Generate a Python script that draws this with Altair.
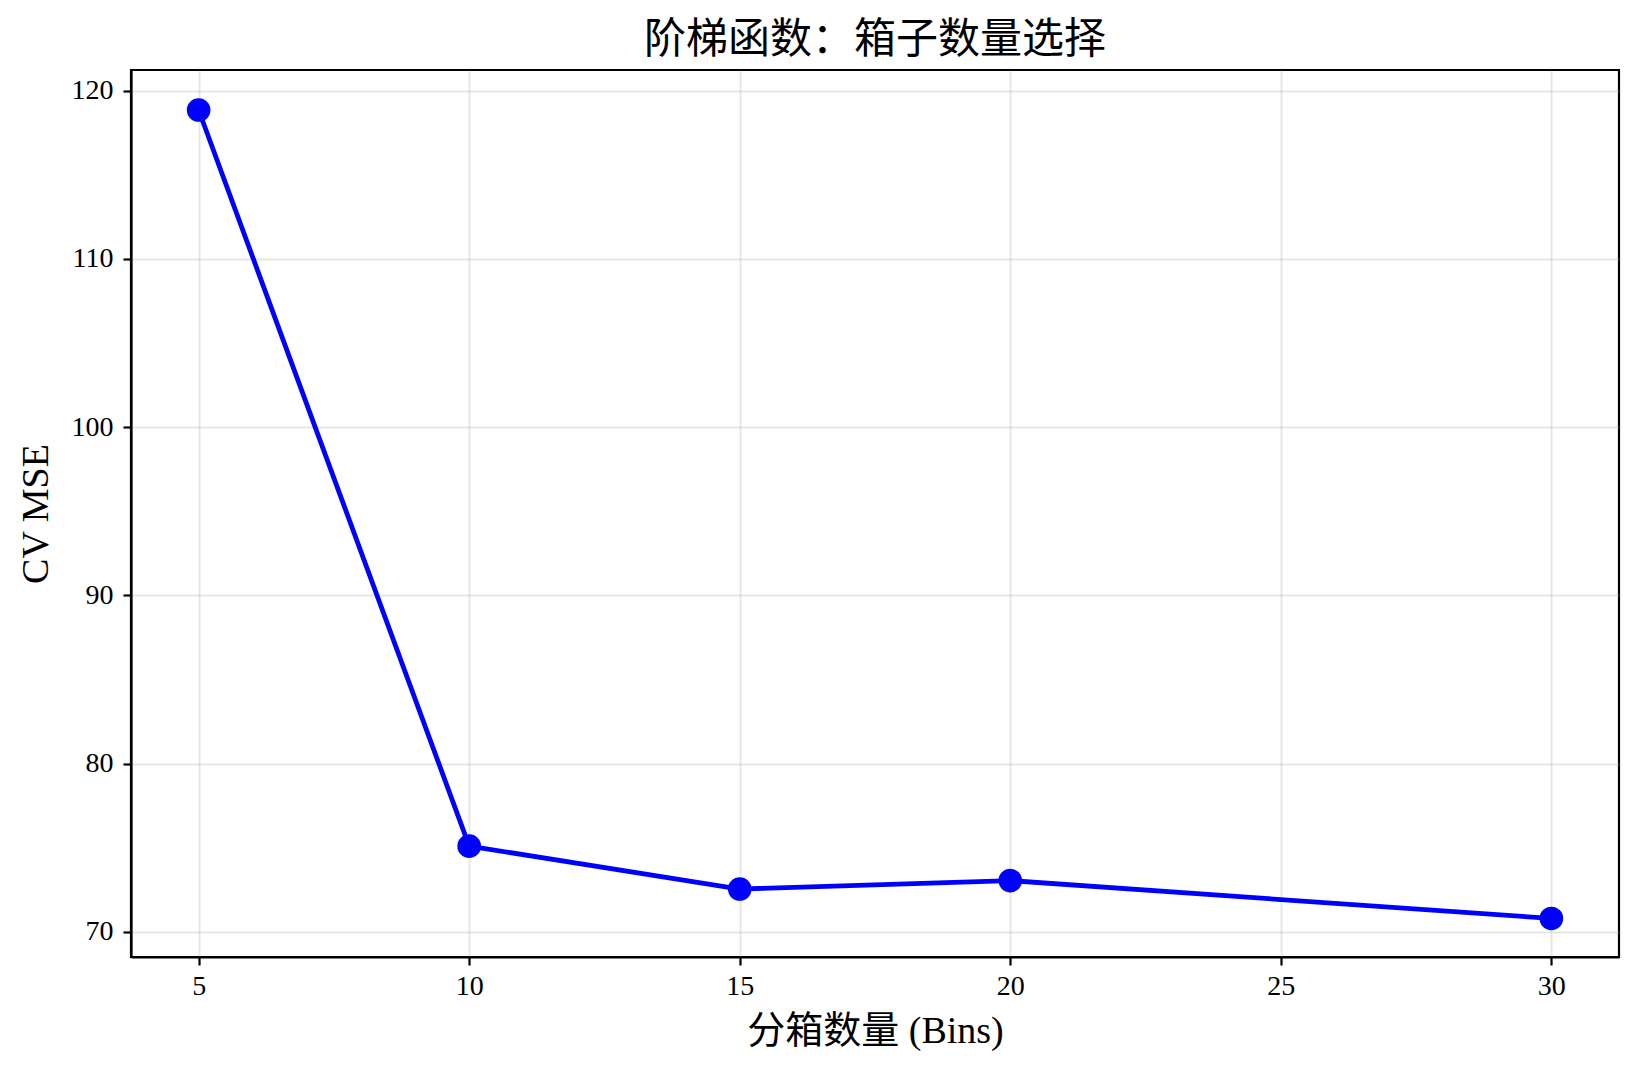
import altair as alt
import pandas as pd

bins = [5, 10, 15, 20, 30]
cv_mse = [118.85, 75.1, 72.55, 73.05, 70.8]
x_ticks = [5, 10, 15, 20, 25, 30]
y_ticks = [70, 80, 90, 100, 110, 120]

df = pd.DataFrame({"bins": bins, "mse": cv_mse})

FONT = "Liberation Serif, DejaVu Serif, Noto Sans CJK SC"

x_enc = alt.X("bins:Q", title="分箱数量 (Bins)",
              scale=alt.Scale(domain=[3.75, 31.25], nice=False, zero=False),
              axis=alt.Axis(values=x_ticks, format="d"))
y_enc = alt.Y("mse:Q", title="CV MSE",
              scale=alt.Scale(domain=[68.51, 121.23], nice=False, zero=False),
              axis=alt.Axis(values=y_ticks, format="d"))

line = alt.Chart(df).mark_line(color="#0000ff", strokeWidth=4.8).encode(x=x_enc, y=y_enc)
pts = alt.Chart(df).mark_point(filled=True, color="#0000ff", size=560, opacity=1).encode(x=x_enc, y=y_enc)

chart = (line + pts).properties(
    width=1488, height=887,
    title=alt.TitleParams("阶梯函数：箱子数量选择", font=FONT, fontSize=42, fontWeight="normal",
                          color="black", offset=8, anchor="middle"),
    autosize=alt.AutoSizeParams(type="none"),
    padding={"left": 123, "top": 62, "right": 10, "bottom": 100},
).configure_view(stroke="black", strokeWidth=2.2).configure_axis(
    labelFont=FONT, titleFont=FONT, labelFontSize=28, titleFontSize=38,
    titleFontWeight="normal", labelColor="black", titleColor="black",
    domainColor="black", domainWidth=2.2, tickColor="black", tickSize=8, tickWidth=2.2,
    gridColor="#b0b0b0", gridOpacity=0.3, gridWidth=2,
).configure_axisX(titlePadding=12, labelPadding=7).configure_axisY(titlePadding=16, labelPadding=10)

chart.save("out.html", embed_options={"renderer": "svg", "actions": False})
